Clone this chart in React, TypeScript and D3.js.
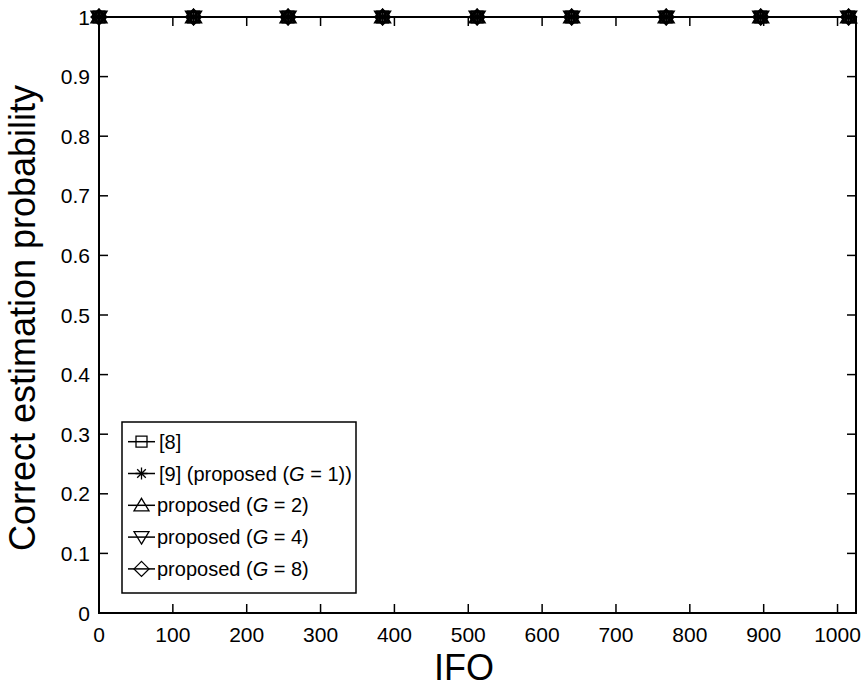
import { useEffect } from "react";
import * as d3 from "d3";

// IFO values where the estimation probability was evaluated
const ifo = [0, 128, 256, 384, 512, 640, 768, 896, 1015];

const ref8 = [1, 1, 1, 1, 1, 1, 1, 1, 1];
const ref9 = [1, 1, 1, 1, 1, 1, 1, 1, 1];
const propG2 = [1, 1, 1, 1, 1, 1, 1, 1, 1];
const propG4 = [1, 1, 1, 1, 1, 1, 1, 1, 1];
const propG8 = [1, 1, 1, 1, 1, 1, 1, 1, 1];

const xTicks = [0, 100, 200, 300, 400, 500, 600, 700, 800, 900, 1000];
const yTicks = [0, 0.1, 0.2, 0.3, 0.4, 0.5, 0.6, 0.7, 0.8, 0.9, 1];

const series = [
  { pre: "[8]", g: null, values: ref8, marker: "square" },
  { pre: "[9] (proposed (", g: "1", values: ref9, marker: "asterisk", tail: ")" },
  { pre: "proposed (", g: "2", values: propG2, marker: "up" },
  { pre: "proposed (", g: "4", values: propG4, marker: "down" },
  { pre: "proposed (", g: "8", values: propG8, marker: "diamond" },
];

const W = 864;
const H = 688;
const M = { top: 17, right: 8, bottom: 75, left: 99 };
const FONT = "Liberation Sans, Arial, Helvetica, sans-serif";

function markerPath(kind: string): string {
  switch (kind) {
    case "square":
      return "M-5.5,-5.5H5.5V5.5H-5.5Z";
    case "asterisk":
      return "M-6,0H6M0,-6V6M-4.3,-4.3L4.3,4.3M-4.3,4.3L4.3,-4.3";
    case "up":
      return "M0,-7L7.5,5.5H-7.5Z";
    case "down":
      return "M0,7L7.5,-5.5H-7.5Z";
    case "diamond":
      return "M0,-7.5L7.5,0L0,7.5L-7.5,0Z";
    default:
      return "";
  }
}

export default function App() {
  useEffect(() => {
    document.body.style.margin = "0";
  }, []);

  const iW = W - M.left - M.right;
  const iH = H - M.top - M.bottom;
  const x = d3.scaleLinear().domain([0, 1025]).range([0, iW]);
  const y = d3.scaleLinear().domain([0, 1]).range([iH, 0]);

  const line = d3
    .line<number>()
    .x((_, i) => x(ifo[i]))
    .y((d) => y(d));

  const tick = 9;
  const legX = 122 - M.left;
  const legY = 422 - M.top;
  const rowH = 31.8;

  return (
    <svg width={W} height={H} style={{ display: "block", background: "#fff" }}>
      <g transform={`translate(${M.left},${M.top})`} fontFamily={FONT}>
        {/* ticks, inward on all sides */}
        {xTicks.map((t) => (
          <g key={"x" + t}>
            <line x1={x(t)} x2={x(t)} y1={iH} y2={iH - tick} stroke="#000" strokeWidth={1.5} />
            <line x1={x(t)} x2={x(t)} y1={0} y2={tick} stroke="#000" strokeWidth={1.5} />
            <text x={x(t)} y={iH + 29} textAnchor="middle" fontSize={21}>
              {t}
            </text>
          </g>
        ))}
        {yTicks.map((t) => (
          <g key={"y" + t}>
            <line x1={0} x2={tick} y1={y(t)} y2={y(t)} stroke="#000" strokeWidth={1.5} />
            <line x1={iW} x2={iW - tick} y1={y(t)} y2={y(t)} stroke="#000" strokeWidth={1.5} />
            <text x={-9} y={y(t) + 7.5} textAnchor="end" fontSize={21}>
              {d3.format("~g")(t)}
            </text>
          </g>
        ))}
        <rect x={0} y={0} width={iW} height={iH} fill="none" stroke="#000" strokeWidth={2} />

        {/* series */}
        {series.map((s, k) => (
          <g key={"s" + k}>
            <path d={line(s.values) ?? ""} fill="none" stroke="#000" strokeWidth={2} />
            {s.values.map((v, i) => (
              <path
                key={i}
                transform={`translate(${x(ifo[i])},${y(v)})`}
                d={markerPath(s.marker)}
                fill="none"
                stroke="#000"
                strokeWidth={2}
              />
            ))}
          </g>
        ))}

        {/* legend */}
        <rect x={legX} y={legY} width={234} height={171} fill="#fff" stroke="#000" strokeWidth={1.5} />
        {series.map((s, k) => {
          const cy = legY + 19.7 + k * rowH;
          return (
            <g key={"l" + k}>
              <line x1={legX + 6} x2={legX + 33} y1={cy} y2={cy} stroke="#000" strokeWidth={1.5} />
              <path
                transform={`translate(${legX + 19.5},${cy})`}
                d={markerPath(s.marker)}
                fill="none"
                stroke="#000"
                strokeWidth={1.3}
              />
              <text x={legX + (k < 2 ? 37 : 35)} y={cy + 7} fontSize={20}>
                {s.pre}
                {s.g && (
                  <>
                    <tspan fontStyle="italic">G</tspan>
                    {" = " + s.g + ")" + (s.tail ?? "")}
                  </>
                )}
              </text>
            </g>
          );
        })}

        {/* axis titles */}
        <text x={464 - M.left} y={680 - M.top} textAnchor="middle" fontSize={36}>
          IFO
        </text>
        <text
          transform={`translate(${35 - M.left},${318 - M.top}) rotate(-90)`}
          textAnchor="middle"
          fontSize={36}
        >
          Correct estimation probability
        </text>
      </g>
    </svg>
  );
}
